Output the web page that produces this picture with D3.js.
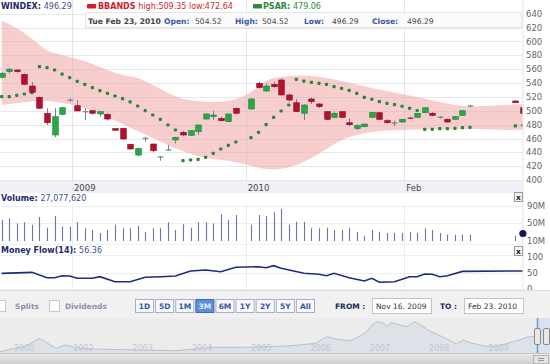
<!DOCTYPE html>
<html><head><meta charset="utf-8">
<script src="https://cdn.jsdelivr.net/npm/d3@7"></script>
<style>
body{margin:0;background:#fff}
svg{display:block}
text{font-family:"DejaVu Sans",Verdana,sans-serif}
</style>
</head><body>
<svg id="c" width="550" height="364"></svg>
<script>
// ---------------- DATA ----------------
const candleDay = [0,1,2,3,4,5,6,7,8,9,10,11,12,13,14,15,16,17,18,19,20,21,22,23,24,25,26,27,28,29,30,31,
  33,34,35,36,37,38,39,40,41,42,43,44,45,46,47,48,49,50,51,52,53,54,55,56,57,58,59,60,61,62,68,69];
const openV  = [548.4,556.5,558.9,552.7,535.8,519.5,496.5,465.2,495,514.8,507.4,498.5,500.2,495.5,495,474.3,474.8,451.8,436.3,459.8,452.2,433,442.5,458,469,464.7,470,488.2,491.6,489.2,484.4,503.7,
  502.7,539.7,528.6,538.3,544.5,522.9,511.7,496.5,517.1,509.9,498.8,490.7,498.8,482.9,474.3,477.1,490.7,497.3,485.8,482.2,483.9,490.1,490.7,497.3,496.5,490.4,487.8,487.8,493.6,506.6,514.2,504.52];
const highV  = [556,562.2,560,554,541.6,520.5,503.7,503.7,505.5,517.5,515.6,503.7,501,499.5,496.5,475,475.5,452.5,447,462.7,453,435,450.8,462.5,471,472,480.5,496,500.2,491.5,496,505,
  518,542,539.7,542,546.9,525,517,509.5,519,511,499.5,499,499.5,489.2,481,481.5,498.5,498,488,485.8,488.5,491.5,497,505,498.5,492.6,489,492.5,500.8,508.9,515.5,504.52];
const lowV   = [547,554.1,555,537,525.3,503,479.6,461.9,494,513,499.8,486.8,494.5,491.6,485.8,471.5,459,444,434.5,455.5,440.5,428.1,442,453,463.5,464,465.2,487.5,486.8,484.5,484,496,
  502,532.5,528,533.4,522,513,498,486.8,509.9,504,487,489.5,490,478,472.5,476.5,490,487,481.5,478,483,488,490,497,492,488.7,483.5,487.5,493,505.1,511.5,496.29];
const closeV = [554.1,560,556.5,538.3,526.7,503.7,482.9,491.6,504.5,516.4,499.8,499,496.5,498.8,488.2,472,459.4,445,445.5,460.6,442.5,434,444.5,461.9,465.2,471.4,479.6,495.5,494,485.8,495.5,496.5,
  517.1,533.4,535.8,534.8,522.9,515.6,498.8,508.4,513.2,506,487.8,496.5,490.7,480,478.6,481,497.9,487.8,482.9,483,487.8,488.7,496.5,504.5,493.6,491,483.9,491.6,500.2,507.4,511.7,496.29];

const bandDay   = [0,2,4,6,8,10,12,14,16,18,20,22,24,26,28,30,31,33,34,35,36,37,39,41,43,45,47,49,51,53,55,57,59,61,63,65,67,69];
const bandUpper = [630,619,604,587,580.5,574.8,567.6,558.9,551.7,547.4,537.3,525.7,517.1,514.2,512.8,514.2,517.1,527.2,535.8,543,547.4,548.8,551,550.3,547.4,543,538,533,528.6,524.3,520,514.9,510.6,507,506.3,507.7,508.4,509.35];
const bandLower = [508.4,511.3,513.5,514.2,511.3,507,499.8,491.1,481,470.9,460.8,450.8,442.1,434.9,430.6,428,426,421,418,416,415.5,416.5,422,432,445,457.9,465.2,469.5,471.7,472.4,473.1,473.1,473.1,473.8,473.8,473.1,472.4,472.64];

const psarDay = [0,1,2,3,4,5,6,7,8,9,10,11,12,13,14,15,16,17,18,19,20,21,22,23,24,25,26,27,28,29,30,31,
  33,34,35,36,37,38,39,40,41,42,43,44,45,46,47,48,49,50,51,52,53,54,55,56,57,58,59,60,61,62,68,69];
const psarV = [520.4,520.4,522.4,524.3,526.2,563.7,562.2,558.9,553.1,547.8,542.6,538.3,533.4,529.1,525.3,521.4,517.5,512.8,507,500.2,494,487.8,479.6,472.4,428.1,429.1,430.1,433,438.8,445,450.3,455.1,
  461.3,469.1,480,490.7,499.8,508.4,545.5,543,541.2,539.7,538.3,534.8,532.5,529.6,525.3,519.5,516.7,513.2,510.9,508.9,506.6,503.7,500.5,473.4,473.4,474.3,474.3,474.8,475.7,476.3,478.2,479.06];

const volDay = [0,1,2,3,4,5,6,7,8,9,10,11,12,13,14,15,16,17,18,19,20,21,22,23,24,25,26,27,28,29,30,31,
  33,34,35,36,37,38,39,40,41,42,43,44,45,46,47,48,49,50,51,52,53,54,55,56,57,58,59,60,61,62,68];
const volM = [58,62,50,53,47,65,40,67,43,43,53,39,35,28,35,47,39,39,45,31,39,39,53,35,48,40,53,53,50,71,58,69.4,
  47,69.4,67,75.6,83,47,54,54,39,39,40,35,35,40,31,22,35,31,28,28,28,30,28,39,35,28,25,24,25,24,22];
const lastVolDay = 69, lastVolM = 27.07762;

const mfDay = [0,4,6,7,8,9,10,12,13,15,17,19,21,23,25,27,29,31,34,35,36,37,40,42,43,44,46,48,49,50,52,54,55,56,57,58,59,61,69];
const mfVal = [49,52,35.6,35.6,41.7,40.8,33.7,33.7,38.7,23.3,23.3,36.8,38.7,40.8,56.1,59.2,54,67.5,69.3,66.3,72.4,64.4,49,46,41.7,49,35.6,25.5,33.7,21.5,23.3,38.7,38.7,46.9,46,38.7,41.7,55,56.36];

const priceTicks = [400,420,440,460,480,500,520,540,560,580,600,620,640];
const dateTickDays = [9.3,32.3,53.3];
const dateTickLabels = ["2009","2010","Feb"];
const volTicks = [10,50,90];
const volTickLabels = ["10M","50M","90M"];
const mfTicks = [0,50,100];

const navYear = [1999.76,2000,2000.18,2000.43,2000.71,2000.86,2001.12,2001.54,2002.13,2002.72,2003.02,2003.31,2003.91,2004.62,2004.79,2005.09,2005.27,2005.44,2005.68,2005.92,2006.04,2006.13,2006.22,2006.30,2006.36,2006.51,2006.63,2006.75,2006.86,2006.98,2007.16,2007.28,2007.46,2007.58,2007.69,2007.93,2008.11,2008.29,2008.52,2008.64,2008.82,2008.9,2009.04];
const navVal  = [1.6,5,6.6,15,5,8.3,5,4,3.3,2.6,4,6,6,7.3,8.3,10,16.6,14,12.6,20,28.3,31.6,30.6,26.6,30.6,28.3,26.6,31.6,28.3,23.3,18.3,15,9.3,13.3,10.6,7.3,6.6,9.3,13.3,16,17.3,13.3,15];
const navTickYears = [2000,2001,2002,2003,2004,2005,2006,2007,2008];
const navTickLabels = ["2000","2002","2003","2004","2005","2006","2007","2008","2009"];

const rangeButtons = ["1D","5D","1M","3M","6M","1Y","2Y","5Y","All"];
const selectedRange = "3M";

// ---------------- DRAW ----------------
const svg = d3.select("#c");
const W = 550, plotR = 522.5;
const x = d3.scaleLinear().domain([0,69]).range([1.7,522.9]);
const y = d3.scaleLinear().domain([400,640]).range([180.2,13.76]);
const yv = d3.scaleLinear().domain([10,100]).range([241,201.6]);
const ym = d3.scaleLinear().domain([0,100]).range([289.3,256.7]);

svg.append("rect").attr("width",W).attr("height",364).attr("fill","#fff");
const defs = svg.append("defs");
defs.append("clipPath").attr("id","mainClip").append("rect").attr("x",0).attr("y",0).attr("width",plotR).attr("height",181);
defs.append("clipPath").attr("id","lowClip").append("rect").attr("x",0).attr("y",195).attr("width",plotR).attr("height",97);

const main = svg.append("g").attr("clip-path","url(#mainClip)");
// band
const bandData = bandDay.map((d,i)=>({d,u:bandUpper[i],l:bandLower[i]}));
main.append("path").datum(bandData)
  .attr("d",d3.area().x(p=>x(p.d)).y0(p=>y(p.l)).y1(p=>y(p.u)).curve(d3.curveMonotoneX))
  .attr("fill","#f8cdcd");
// gridlines
main.selectAll("line.hg").data(priceTicks).join("line")
  .attr("x1",0).attr("x2",plotR).attr("y1",d=>Math.round(y(d))+0.5).attr("y2",d=>Math.round(y(d))+0.5)
  .attr("stroke","rgba(190,190,200,0.35)").attr("stroke-width",1);
main.selectAll("line.vg").data(dateTickDays).join("line")
  .attr("x1",d=>Math.round(x(d))+0.5).attr("x2",d=>Math.round(x(d))+0.5).attr("y1",0).attr("y2",181)
  .attr("stroke","rgba(190,190,200,0.4)");

// PSAR dots
main.selectAll("rect.ps").data(psarDay).join("rect")
  .attr("x",(d)=>x(d)-1.6).attr("y",(d,i)=>y(psarV[i])-1.6).attr("width",3.2).attr("height",3.2).attr("rx",0.8)
  .attr("fill","#23883b");

// candles
const cg = main.append("g");
candleDay.forEach((d,i)=>{
  const o=openV[i], c=closeV[i], h=highV[i], l=lowV[i];
  const up = c>=o;
  const cx = Math.round(x(d))+0.5;
  cg.append("line").attr("x1",cx).attr("x2",cx).attr("y1",y(h)).attr("y2",y(l))
    .attr("stroke","#7b78a8").attr("stroke-width",1);
  const top = y(Math.max(o,c)), bot = y(Math.min(o,c));
  const hgt = bot-top;
  if (hgt < 1.5) {
    cg.append("line").attr("x1",cx-2.8).attr("x2",cx+2.8).attr("y1",(top+bot)/2).attr("y2",(top+bot)/2)
      .attr("stroke", up? "#6f8f8f":"#a02038").attr("stroke-width",1.3);
  } else {
    cg.append("rect").attr("x",cx-2.8).attr("y",top).attr("width",5.6).attr("height",hgt)
      .attr("fill",up?"#27a845":"#b3102c").attr("stroke",up?"#17863a":"#8c0a20").attr("stroke-width",0.6);
  }
});

// right price axis labels
svg.selectAll("text.pl").data(priceTicks).join("text")
  .attr("x",526).attr("y",d=>y(d)+3).attr("font-size",8.5).attr("fill","#666").text(d=>d);
svg.append("line").attr("x1",plotR+0.5).attr("x2",plotR+0.5).attr("y1",0).attr("y2",290).attr("stroke","#e4e4e4");

// header rows
svg.append("rect").attr("x",85.5).attr("y",12.5).attr("width",436).attr("height",15).attr("fill","#fbfbfb").attr("stroke","#e6e6e6");
const h1 = svg.append("text").attr("x",1).attr("y",9).attr("font-size",8);
h1.append("tspan").attr("font-weight","bold").attr("fill","#1c2a6b").text("WINDEX: ");
h1.append("tspan").attr("fill","#3c4f96").text("496.29");
svg.append("rect").attr("x",87).attr("y",4).attr("width",9).attr("height",4.5).attr("rx",1).attr("fill","#d01c2c");
const h2 = svg.append("text").attr("x",98).attr("y",9).attr("font-size",8).attr("fill","#d01c2c");
h2.append("tspan").attr("font-weight","bold").text("BBANDS ");
h2.append("tspan").text(" high:509.35 low:472.64");
svg.append("rect").attr("x",253).attr("y",4).attr("width",9).attr("height",4.5).attr("rx",1).attr("fill","#2a8a3c");
const h3 = svg.append("text").attr("x",263).attr("y",9).attr("font-size",8).attr("fill","#2a8a3c");
h3.append("tspan").attr("font-weight","bold").text("PSAR: ");
h3.append("tspan").text("479.06");

const row = [["Tue Feb 23, 2010",88,"#444",true],["Open:",164,"#3a56a8",true],["504.52",195,"#444",false],
  ["High:",235,"#3a56a8",true],["504.52",262,"#444",false],["Low:",304,"#3a56a8",true],["496.29",332,"#444",false],
  ["Close:",372,"#3a56a8",true],["496.29",407,"#444",false]];
svg.selectAll("text.r2").data(row).join("text").attr("x",d=>d[1]).attr("y",23.5).attr("font-size",7.6)
  .attr("fill",d=>d[2]).attr("font-weight",d=>d[3]?"bold":"normal").text(d=>d[0]);

// x axis band
svg.append("rect").attr("x",0).attr("y",181).attr("width",plotR).attr("height",12).attr("fill","#eef0f5");
svg.selectAll("text.xl").data(dateTickDays).join("text")
  .attr("x",d=>x(d)+2).attr("y",190.5).attr("font-size",8.5).attr("fill","#444").text((d,i)=>dateTickLabels[i]);

// lower panels
const low = svg.append("g");
low.selectAll("line.vg2").data(dateTickDays).join("line")
  .attr("x1",d=>Math.round(x(d))+0.5).attr("x2",d=>Math.round(x(d))+0.5).attr("y1",204).attr("y2",290)
  .attr("stroke","#ececec");
[yv(90),yv(50),yv(10)+3,ym(100)-2,ym(50),ym(0)].forEach(v=>{
  low.append("line").attr("x1",0).attr("x2",plotR).attr("y1",Math.round(v)+0.5).attr("y2",Math.round(v)+0.5).attr("stroke","#eeeeee");
});
// volume header
const vh = svg.append("text").attr("x",1).attr("y",201).attr("font-size",8);
vh.append("tspan").attr("font-weight","bold").attr("fill","#1c2a6b").text("Volume: ");
vh.append("tspan").attr("fill","#3c4f96").text(d3.format(",")(Math.round(lastVolM*1e6)));
// volume bars
const vb = svg.append("g").attr("clip-path","url(#lowClip)");
vb.selectAll("line.vb").data(volDay).join("line")
  .attr("x1",d=>Math.round(x(d))+0.5).attr("x2",d=>Math.round(x(d))+0.5)
  .attr("y1",yv(10)).attr("y2",(d,i)=>yv(volM[i])).attr("stroke","#6b74aa").attr("stroke-width",1.1);
svg.append("circle").attr("cx",x(lastVolDay)).attr("cy",yv(lastVolM)).attr("r",3.6).attr("fill","#0d1858");
svg.selectAll("text.vl").data(volTicks).join("text")
  .attr("x",527).attr("y",d=>yv(d)+3).attr("font-size",8.5).attr("fill","#666").text((d,i)=>volTickLabels[i]);

// money flow header
const mh = svg.append("text").attr("x",1).attr("y",252.5).attr("font-size",8);
mh.append("tspan").attr("font-weight","bold").attr("fill","#1c2a6b").text("Money Flow(14): ");
mh.append("tspan").attr("fill","#3c4f96").text("56.36");
vb.append("path").datum(mfDay.map((d,i)=>[d,mfVal[i]]))
  .attr("d",d3.line().x(p=>x(p[0])).y(p=>ym(p[1])))
  .attr("fill","none").attr("stroke","#1f2c7e").attr("stroke-width",1.6);
svg.selectAll("text.ml").data(mfTicks).join("text")
  .attr("x",527).attr("y",d=>ym(d)+3).attr("font-size",8.5).attr("fill","#666").text(d=>d);

// close boxes
[192,246].forEach(yy=>{
  svg.append("rect").attr("x",514.5).attr("y",yy+0.5).attr("width",8).attr("height",9).attr("fill","#f4f4f4").attr("stroke","#999");
  svg.append("text").attr("x",518.5).attr("y",yy+7.5).attr("text-anchor","middle").attr("font-size",7.5).attr("font-weight","bold").attr("fill","#222").text("x");
});

// controls row
svg.append("rect").attr("x",0).attr("y",291).attr("width",W).attr("height",27).attr("fill","#f1f1f1");
svg.append("line").attr("x1",0).attr("x2",W).attr("y1",290.5).attr("y2",290.5).attr("stroke","#dcdcdc");
svg.append("rect").attr("x",-3.5).attr("y",300.5).attr("width",9).attr("height",11).attr("fill","#fff").attr("stroke","#c8c8c8");
svg.append("text").attr("x",15).attr("y",309).attr("font-size",7.5).attr("font-weight","bold").attr("fill","#8a93a6").text("Splits");
svg.append("rect").attr("x",49.5).attr("y",300.5).attr("width",10).attr("height",11).attr("fill","#fff").attr("stroke","#c8c8c8");
svg.append("text").attr("x",65).attr("y",309).attr("font-size",7.5).attr("font-weight","bold").attr("fill","#8a93a6").text("Dividends");
const bx = d3.scaleBand().domain(rangeButtons).range([135,314]).paddingInner(0.1);
const bg = svg.selectAll("g.btn").data(rangeButtons).join("g");
bg.append("rect").attr("x",d=>bx(d)+0.5).attr("y",299.5).attr("width",bx.bandwidth()).attr("height",13)
  .attr("fill",d=>d===selectedRange?"#5d8fd6":"#f8f9fc").attr("stroke",d=>d===selectedRange?"#3f6db5":"#a8b0c4");
bg.append("text").attr("x",d=>bx(d)+bx.bandwidth()/2+0.5).attr("y",309).attr("text-anchor","middle")
  .attr("font-size",7.5).attr("font-weight","bold").attr("fill",d=>d===selectedRange?"#dfe9fb":"#3556a8").text(d=>d);
svg.append("text").attr("x",335).attr("y",309).attr("font-size",7.5).attr("font-weight","bold").attr("fill","#1c2a5b").text("FROM :");
svg.append("rect").attr("x",372.5).attr("y",298.5).attr("width",59).attr("height",15).attr("fill","#fff").attr("stroke","#c4c4c4");
svg.append("text").attr("x",376).attr("y",309).attr("font-size",7.5).attr("fill","#333").text("Nov 16. 2009");
svg.append("text").attr("x",440).attr("y",309).attr("font-size",7.5).attr("font-weight","bold").attr("fill","#1c2a5b").text("TO :");
svg.append("rect").attr("x",464.5).attr("y",298.5).attr("width",59).attr("height",15).attr("fill","#fff").attr("stroke","#c4c4c4");
svg.append("text").attr("x",468).attr("y",309).attr("font-size",7.5).attr("fill","#333").text("Feb 23. 2010");

// navigator
svg.append("rect").attr("x",0).attr("y",318).attr("width",W).attr("height",36).attr("fill","#ececec");
const nx = d3.scaleLinear().domain([2000,2008]).range([14,488.4]);
const ny = d3.scaleLinear().domain([0,35]).range([353.3,318.3]);
const navD = navYear.map((d,i)=>[d,navVal[i]]);
svg.append("path").datum(navD).attr("d",d3.area().x(p=>nx(p[0])).y0(353.3).y1(p=>ny(p[1])))
  .attr("fill","#dde1e8");
svg.append("path").datum(navD).attr("d",d3.line().x(p=>nx(p[0])).y(p=>ny(p[1])))
  .attr("fill","none").attr("stroke","#b9c0cc").attr("stroke-width",1);
svg.selectAll("text.nl").data(navTickYears).join("text")
  .attr("x",d=>nx(d)).attr("y",350.5).attr("font-size",8).attr("fill","#c2c6ce").text((d,i)=>navTickLabels[i]);
svg.append("line").attr("x1",0).attr("x2",W).attr("y1",353.5).attr("y2",353.5).attr("stroke","#c8c8c8");
svg.append("rect").attr("x",537).attr("y",318).attr("width",13).attr("height",35).attr("fill","#d9e2ee");
svg.append("line").attr("x1",537.5).attr("x2",537.5).attr("y1",318).attr("y2",353).attr("stroke","#5da0dc").attr("stroke-width",1.5);
svg.append("rect").attr("x",534.5).attr("y",328.5).attr("width",6).attr("height",16).attr("rx",1.5).attr("fill","#e8e8e8").attr("stroke","#888");
svg.append("rect").attr("x",543.5).attr("y",328.5).attr("width",6).attr("height",16).attr("rx",1.5).attr("fill","#e8e8e8").attr("stroke","#888");
// scrollbar
const sg = defs.append("linearGradient").attr("id","sb").attr("x1",0).attr("x2",0).attr("y1",0).attr("y2",1);
sg.append("stop").attr("offset",0).attr("stop-color","#e9e9e9");
sg.append("stop").attr("offset",1).attr("stop-color","#cfcfcf");
svg.append("rect").attr("x",0).attr("y",354).attr("width",W).attr("height",10).attr("fill","url(#sb)");
svg.append("rect").attr("x",533.5).attr("y",355.5).attr("width",15).attr("height",8).attr("fill","#e4e4e4").attr("stroke","#b4b4b4");
[358,360].forEach(v=>svg.append("line").attr("x1",538).attr("x2",544).attr("y1",v+0.5).attr("y2",v+0.5).attr("stroke","#999"));
</script>
</body></html>
